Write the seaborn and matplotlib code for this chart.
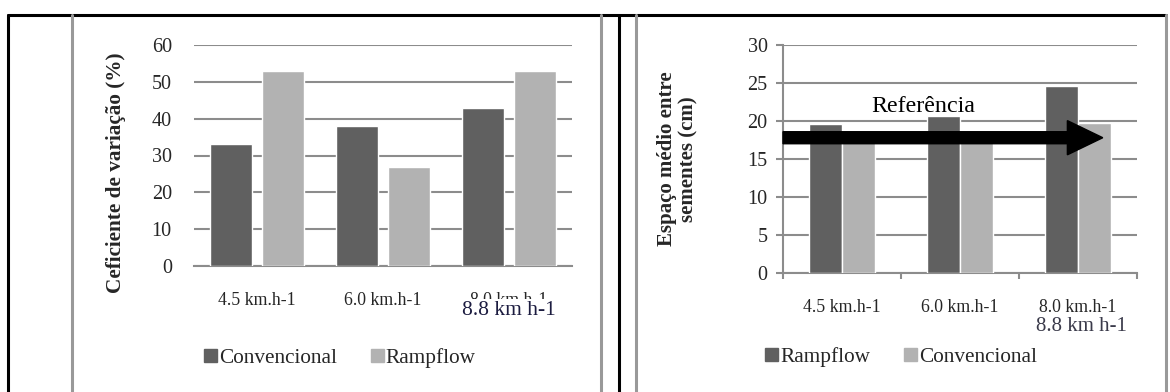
import pandas as pd
import seaborn as sns
import matplotlib.pyplot as plt
from matplotlib.lines import Line2D
from matplotlib.patches import Patch

# data
speeds = ['4.5 km.h-1', '6.0 km.h-1', '8.0 km.h-1']
cv_convencional = [33.2, 38.0, 43.0]
cv_rampflow = [53.0, 27.0, 53.0]
esp_rampflow = [19.6, 20.7, 24.6]
esp_convencional = [17.2, 17.2, 19.7]
ref_level = 17.8
overlay_label = '8.8 km h-1'

dark = '#606060'
light = '#b2b2b2'
grid = '#8c8c8c'

sns.set_theme(style='white')
plt.rcParams['font.family'] = ['Liberation Serif', 'DejaVu Serif']

fig = plt.figure(figsize=(11.7, 3.92), dpi=100)
W, H = 1170, 392

def fx(px):
    return px / W

def fy(py):
    return 1 - py / H

# 1. left chart - coeficiente de variacao
df1 = pd.DataFrame({
    'speed': speeds * 2,
    'serie': ['Convencional'] * 3 + ['Rampflow'] * 3,
    'valor': cv_convencional + cv_rampflow,
})
ax1 = fig.add_axes([fx(194), fy(266), fx(572 - 194), fy(45) - fy(266)])
sns.barplot(data=df1, x='speed', y='valor', hue='serie', palette=[dark, light],
            width=0.83, gap=0.2, saturation=1, legend=False, ax=ax1, zorder=3)
ax1.set_ylim(0, 60)
ax1.set_yticks(range(0, 61, 10))
ax1.set_xlim(-0.5, 2.5)
ax1.yaxis.grid(True, color=grid, lw=1.5, zorder=0)
ax1.set_axisbelow(True)
for s in ['top', 'right', 'left']:
    ax1.spines[s].set_visible(False)
ax1.spines['bottom'].set_color(grid)
ax1.spines['bottom'].set_linewidth(1.5)
ax1.tick_params(axis='y', length=0, pad=16, labelsize=14.5)
ax1.tick_params(axis='x', length=0, pad=19, labelsize=12.8)
ax1.set_xlabel('')
ax1.set_ylabel('Ceficiente de variação (%)', fontsize=15.3, fontweight='bold')
ax1.yaxis.set_label_coords(-0.18, 0.42)
ax1.text(0.833, -0.2, overlay_label, transform=ax1.transAxes, ha='center', va='center',
         fontsize=15.5, color='#1c1c40', bbox=dict(fc='white', ec='none', pad=1.5))

fig.legend(handles=[Patch(color=dark, label='Convencional'), Patch(color=light, label='Rampflow')],
           loc='center', bbox_to_anchor=(fx(340), fy(358)), ncol=2, frameon=False,
           fontsize=15.3, handlelength=0.6, handleheight=0.6, handletextpad=0.1, columnspacing=1.6)

# 2. right chart - espaco medio entre sementes
df2 = pd.DataFrame({
    'speed': speeds * 2,
    'serie': ['Rampflow'] * 3 + ['Convencional'] * 3,
    'valor': esp_rampflow + esp_convencional,
})
ax2 = fig.add_axes([fx(783), fy(273), fx(1137 - 783), fy(45) - fy(273)])
sns.barplot(data=df2, x='speed', y='valor', hue='serie', palette=[dark, light],
            width=0.56, gap=0, saturation=1, legend=False, ax=ax2, zorder=3)
ax2.set_ylim(0, 30)
ax2.set_yticks(range(0, 31, 5))
ax2.set_xlim(-0.5, 2.5)
ax2.yaxis.grid(True, color=grid, lw=1.5, zorder=0)
ax2.set_axisbelow(True)
for s in ['top', 'right']:
    ax2.spines[s].set_visible(False)
for s in ['left', 'bottom']:
    ax2.spines[s].set_color(grid)
    ax2.spines[s].set_linewidth(1.5)
ax2.set_xticks([-0.5, 0.5, 1.5, 2.5], minor=True)
ax2.tick_params(axis='x', which='major', length=0, pad=19, labelsize=12.8)
ax2.tick_params(axis='x', which='minor', bottom=True, direction='out', length=4, width=1.5, color=grid)
ax2.tick_params(axis='y', left=True, direction='out', length=5, width=1.5, color=grid, pad=6, labelsize=14.5)
ax2.set_xlabel('')
ax2.set_ylabel('Espaço médio entre\nsementes (cm)', fontsize=15, fontweight='bold', linespacing=1.05)
ax2.yaxis.set_label_coords(-0.24, 0.5)

# reference arrow
ax2.arrow(-0.5, ref_level, 2.71, 0, width=1.58, head_width=4.5, head_length=0.3,
          length_includes_head=True, color='black', zorder=5, clip_on=False)
ax2.text(0.69, 21.9, 'Referência', ha='center', va='center', fontsize=17.3, color='black', zorder=6)
ax2.text(0.842, -0.235, overlay_label, transform=ax2.transAxes, ha='center', va='center',
         fontsize=15, color='#3a3a4a')

fig.legend(handles=[Patch(color=dark, label='Rampflow'), Patch(color=light, label='Convencional')],
           loc='center', bbox_to_anchor=(fx(901), fy(357)), ncol=2, frameon=False,
           fontsize=15.3, handlelength=0.6, handleheight=0.6, handletextpad=0.1, columnspacing=1.6)

# 3. table frame around the two charts
frame = [
    ((8, 8), (15, 392), 'black', 2.2),
    ((8, 1166), (15, 15), 'black', 2.2),
    ((619, 619), (15, 392), 'black', 2.2),
    ((72, 72), (15, 392), '#999999', 2.2),
    ((601, 601), (15, 392), '#999999', 2.2),
    ((636, 636), (15, 392), '#999999', 2.2),
    ((1166, 1166), (15, 392), '#999999', 2.2),
]
for xs, ys, c, lw in frame:
    fig.add_artist(Line2D([fx(xs[0]), fx(xs[1])], [fy(ys[0]), fy(ys[1])],
                          transform=fig.transFigure, color=c, lw=lw))

fig.savefig('out.png', dpi=100)
